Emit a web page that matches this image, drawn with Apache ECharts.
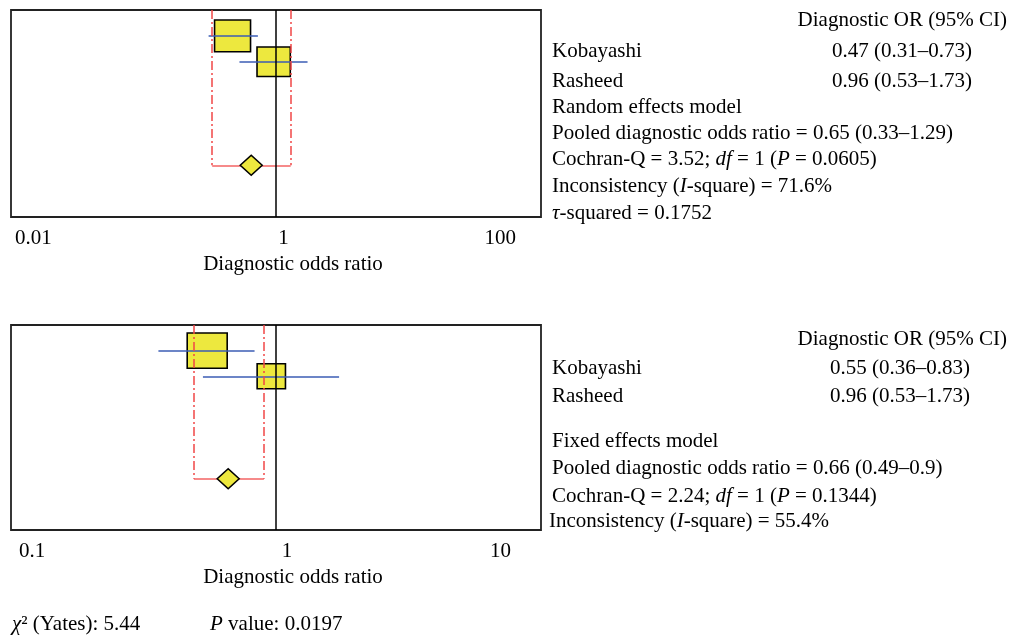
<!DOCTYPE html>
<html>
<head>
<meta charset="utf-8">
<script src="https://cdn.jsdelivr.net/npm/echarts@6/dist/echarts.min.js"></script>
<style>
html,body{margin:0;padding:0;background:#fff;}
#chart{width:1009px;height:637px;}
</style>
</head>
<body>
<div id="chart"></div>
<script>
// ---------- data ----------
const studies = ['Kobayashi', 'Rasheed'];
const studyRows = [1, 2];
const pooledRow = 6;

// random effects panel (top)
const randOR = [0.47, 0.96];
const randLo = [0.31, 0.53];
const randHi = [0.73, 1.73];
const randWeight = [53.9, 46.1];
const randPooled = [0.65, 0.33, 1.29];
const randStats = {Q: '3.52', df: '1', P: '0.0605', I2: '71.6%', tau2: '0.1752'};
const randTicks = ['0.01', '1', '100'];

// fixed effects panel (bottom)
const fixOR = [0.55, 0.96];
const fixLo = [0.36, 0.53];
const fixHi = [0.83, 1.73];
const fixWeight = [66.6, 33.4];
const fixPooled = [0.66, 0.49, 0.9];
const fixStats = {Q: '2.24', df: '1', P: '0.1344', I2: '55.4%'};
const fixTicks = ['0.1', '1', '10'];

const chiYates = '5.44';
const chiP = '0.0197';

// ---------- styles ----------
const FONT = '"Liberation Serif", "Times New Roman", serif';
const FS = 21;
const YELLOW = '#ede83e';
const BLUE = '#3b5cb5';
const RED = '#f04646';

function boxSize(w) {
  const wd = 4.9 * Math.sqrt(w);
  return [wd, wd / 1.13];
}

function axisFor(idx, ticks, minV, maxV, interval, pads) {
  return {
    type: 'log', logBase: 10, gridIndex: idx, min: minV, max: maxV, interval: interval,
    axisLine: {show: false}, axisTick: {show: false}, splitLine: {show: false},
    axisLabel: {
      margin: 11, color: '#000', fontFamily: FONT, fontSize: FS,
      alignMinLabel: 'left', alignMaxLabel: 'right',
      formatter: function (v) {
        let k = -1;
        for (let i = 0; i < ticks.length; i++) {
          if (Math.abs(Math.log10(Number(ticks[i])) - Math.log10(v)) < 1e-6) k = i;
        }
        if (k < 0) return '';
        const tag = k === 0 ? 'a' : (k === ticks.length - 1 ? 'c' : 'b');
        return '{' + tag + '|' + ticks[k] + '}';
      },
      rich: {
        a: {fontFamily: FONT, fontSize: FS, color: '#000', padding: [0, 0, 0, pads[0]]},
        b: {fontFamily: FONT, fontSize: FS, color: '#000', padding: [0, 0, 0, pads[1]]},
        c: {fontFamily: FONT, fontSize: FS, color: '#000', padding: [0, pads[2], 0, 0]}
      }
    },
    name: 'Diagnostic odds ratio', nameLocation: 'middle', nameGap: 37,
    nameTextStyle: {fontFamily: FONT, fontSize: FS, color: '#000', padding: [0, 0, 0, 34]}
  };
}

function panelSeries(idx, OR, lo, hi, weight, pooled) {
  return [
    {
      type: 'scatter', xAxisIndex: idx, yAxisIndex: idx, symbol: 'rect', z: 2,
      data: OR.map((v, i) => [v, studyRows[i], weight[i]]),
      symbolSize: d => boxSize(d[2]),
      itemStyle: {color: YELLOW, borderColor: '#000', borderWidth: 1.5, opacity: 1},
      silent: true
    },
    {
      type: 'lines', coordinateSystem: 'cartesian2d', xAxisIndex: idx, yAxisIndex: idx, z: 3,
      data: lo.map((l, i) => ({coords: [[l, studyRows[i]], [hi[i], studyRows[i]]]})),
      lineStyle: {color: BLUE, width: 1.5, opacity: 1}, silent: true,
      markLine: {
        silent: true, symbol: 'none', label: {show: false},
        lineStyle: {color: '#000', width: 1.5, type: 'solid', opacity: 1},
        data: [{xAxis: 1}]
      }
    },
    {
      type: 'lines', coordinateSystem: 'cartesian2d', xAxisIndex: idx, yAxisIndex: idx, z: 3,
      data: [
        {coords: [[pooled[1], 0], [pooled[1], pooledRow]]},
        {coords: [[pooled[2], 0], [pooled[2], pooledRow]]}
      ],
      lineStyle: {color: RED, width: 1.5, opacity: 1, type: [9, 3, 2, 3]}, silent: true
    },
    {
      type: 'lines', coordinateSystem: 'cartesian2d', xAxisIndex: idx, yAxisIndex: idx, z: 3,
      data: [{coords: [[pooled[1], pooledRow], [pooled[2], pooledRow]]}],
      lineStyle: {color: RED, width: 1.5, opacity: 0.85, type: 'solid'}, silent: true
    },
    {
      type: 'scatter', xAxisIndex: idx, yAxisIndex: idx, symbol: 'diamond', z: 4,
      symbolSize: [22, 20],
      data: [[pooled[0], pooledRow]],
      itemStyle: {color: YELLOW, borderColor: '#000', borderWidth: 1.5, opacity: 1},
      silent: true
    }
  ];
}

const ciText = (o, l, h) => String(o) + ' (' + String(l) + '\u2013' + String(h) + ')';

const rich = {
  n: {fontFamily: FONT, fontSize: FS, fill: '#000'},
  i: {fontFamily: FONT, fontSize: FS, fontStyle: 'italic', fill: '#000'}
};
function txt(x, y, text, align) {
  return {
    type: 'text', x: x, y: y, silent: true,
    style: {
      text: text, fill: '#000', fontFamily: FONT, fontSize: FS,
      align: align || 'left', textAlign: align || 'left',
      verticalAlign: 'middle', textVerticalAlign: 'middle', rich: rich
    }
  };
}

const graphics = [
  // top panel text
  txt(1007, 20, 'Diagnostic OR (95% CI)', 'right'),
  txt(552, 51, studies[0]),
  txt(972, 51, ciText(randOR[0], randLo[0], randHi[0]), 'right'),
  txt(552, 81, studies[1]),
  txt(972, 81, ciText(randOR[1], randLo[1], randHi[1]), 'right'),
  txt(552, 107, 'Random effects model'),
  txt(552, 133, 'Pooled diagnostic odds ratio = ' + ciText(randPooled[0], randPooled[1], randPooled[2])),
  txt(552, 159, 'Cochran-Q = ' + randStats.Q + '; {i|df} = ' + randStats.df + ' ({i|P} = ' + randStats.P + ')'),
  txt(552, 186, 'Inconsistency ({i|I}-square) = ' + randStats.I2),
  txt(552, 213, '{i|\u03c4}-squared = ' + randStats.tau2),
  // bottom panel text
  txt(1007, 339, 'Diagnostic OR (95% CI)', 'right'),
  txt(552, 368, studies[0]),
  txt(970, 368, ciText(fixOR[0], fixLo[0], fixHi[0]), 'right'),
  txt(552, 396, studies[1]),
  txt(970, 396, ciText(fixOR[1], fixLo[1], fixHi[1]), 'right'),
  txt(552, 441, 'Fixed effects model'),
  txt(552, 468, 'Pooled diagnostic odds ratio = ' + ciText(fixPooled[0], fixPooled[1], fixPooled[2])),
  txt(552, 496, 'Cochran-Q = ' + fixStats.Q + '; {i|df} = ' + fixStats.df + ' ({i|P} = ' + fixStats.P + ')'),
  txt(549, 521, 'Inconsistency ({i|I}-square) = ' + fixStats.I2),
  // footer
  txt(12, 624, '{i|\u03c7}\u00b2 (Yates): ' + chiYates),
  txt(210, 624, '{i|P} value: ' + chiP)
];

const chart = echarts.init(document.getElementById('chart'), null, {renderer: 'canvas'});
chart.setOption({
  backgroundColor: '#fff',
  animation: false,
  grid: [
    {left: 11, top: 10, width: 530, height: 207, show: true, borderColor: '#222', borderWidth: 1.8, backgroundColor: 'transparent'},
    {left: 11, top: 325, width: 530, height: 205, show: true, borderColor: '#222', borderWidth: 1.8, backgroundColor: 'transparent'}
  ],
  xAxis: [
    axisFor(0, randTicks, 0.01, 100, 2, [4, 15, 25]),
    axisFor(1, fixTicks, 0.1, 10, 1, [8, 22, 30])
  ],
  yAxis: [
    {type: 'value', gridIndex: 0, min: 0, max: 8, inverse: true, show: false},
    {type: 'value', gridIndex: 1, min: 0, max: 8, inverse: true, show: false}
  ],
  series: panelSeries(0, randOR, randLo, randHi, randWeight, randPooled)
    .concat(panelSeries(1, fixOR, fixLo, fixHi, fixWeight, fixPooled)),
  graphic: graphics
});
</script>
</body>
</html>
